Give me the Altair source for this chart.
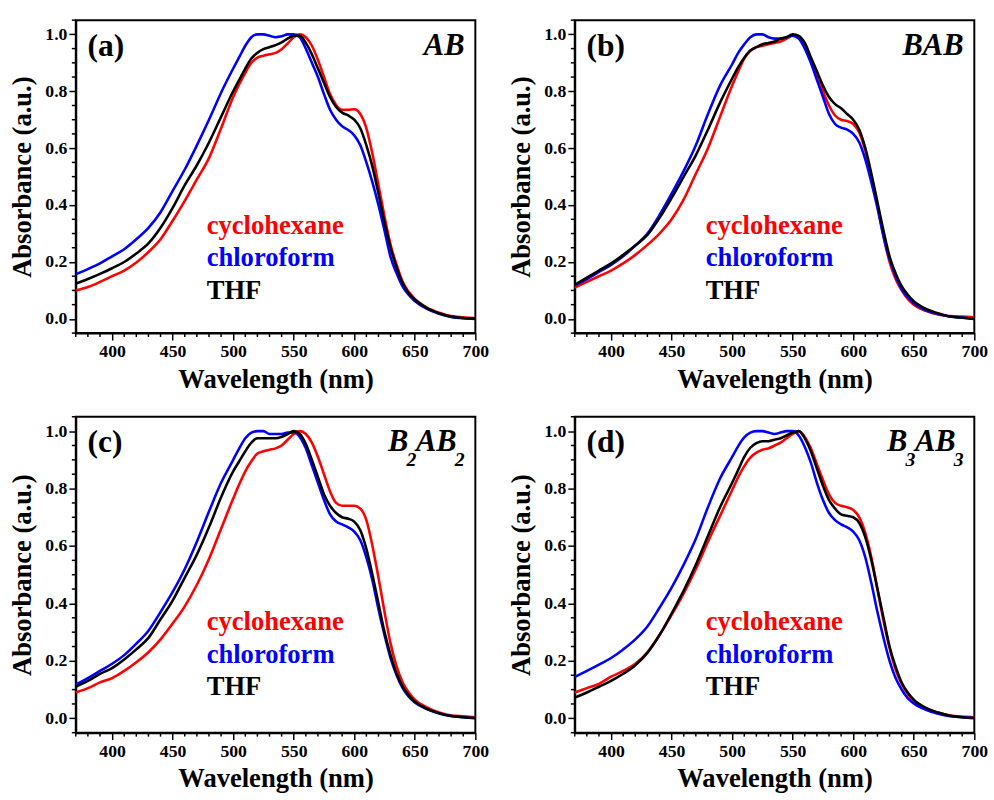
import altair as alt
import pandas as pd

# ---------------- data ----------------
WL = [370, 380, 390, 400, 410, 420, 430, 440, 450, 460, 470, 480, 490, 500,
      505, 510, 515, 520, 525, 530, 535, 540, 545, 550, 555, 560, 565, 570, 575, 580,
      585, 590, 595, 600, 605, 610, 615, 620, 625, 630, 635, 640, 645, 650,
      660, 670, 680, 690, 700]

SOLVENTS = ["cyclohexane", "chloroform", "THF"]
COLORS = ["#ff0000", "#0000ff", "#000000"]

# panel (a) AB
A_CYC = [0.100, 0.112, 0.130, 0.150, 0.170, 0.198, 0.235, 0.280, 0.345, 0.415, 0.490, 0.565, 0.670, 0.780,
         0.825, 0.865, 0.900, 0.918, 0.925, 0.930, 0.935, 0.948, 0.968, 0.990, 1.000, 0.990, 0.960, 0.910, 0.850, 0.790,
         0.752, 0.735, 0.735, 0.737, 0.720, 0.670, 0.580, 0.470, 0.360, 0.260, 0.190, 0.130, 0.095, 0.070,
         0.040, 0.022, 0.010, 0.006, 0.003]
A_CHL = [0.157, 0.175, 0.195, 0.220, 0.245, 0.280, 0.320, 0.375, 0.450, 0.525, 0.610, 0.700, 0.795, 0.880,
         0.920, 0.960, 0.990, 1.000, 1.000, 0.995, 0.990, 0.993, 1.000, 1.000, 0.990, 0.950, 0.900, 0.850, 0.790, 0.735,
         0.700, 0.677, 0.664, 0.645, 0.610, 0.550, 0.480, 0.400, 0.310, 0.217, 0.160, 0.113, 0.084, 0.063,
         0.035, 0.018, 0.007, 0.002, 0.000]
A_THF = [0.124, 0.140, 0.158, 0.178, 0.200, 0.230, 0.265, 0.320, 0.390, 0.470, 0.540, 0.620, 0.710, 0.800,
         0.840, 0.880, 0.915, 0.935, 0.948, 0.955, 0.962, 0.972, 0.985, 0.995, 0.995, 0.970, 0.930, 0.880, 0.830, 0.780,
         0.745, 0.725, 0.715, 0.700, 0.670, 0.610, 0.535, 0.440, 0.340, 0.250, 0.180, 0.125, 0.090, 0.068,
         0.038, 0.020, 0.008, 0.003, 0.001]

# panel (b) BAB
B_CYC = [0.110, 0.130, 0.150, 0.170, 0.195, 0.225, 0.260, 0.300, 0.350, 0.420, 0.510, 0.600, 0.710, 0.820,
         0.870, 0.915, 0.942, 0.955, 0.960, 0.965, 0.970, 0.975, 0.985, 0.995, 0.990, 0.960, 0.910, 0.860, 0.800, 0.750,
         0.715, 0.700, 0.695, 0.685, 0.655, 0.590, 0.500, 0.400, 0.290, 0.200, 0.140, 0.100, 0.070, 0.050,
         0.028, 0.015, 0.010, 0.008, 0.006]
B_CHL = [0.118, 0.140, 0.165, 0.190, 0.220, 0.258, 0.300, 0.365, 0.440, 0.520, 0.610, 0.720, 0.820, 0.895,
         0.935, 0.965, 0.990, 1.000, 1.000, 0.990, 0.985, 0.985, 0.990, 0.995, 0.985, 0.950, 0.900, 0.840, 0.780, 0.720,
         0.685, 0.672, 0.665, 0.650, 0.620, 0.560, 0.480, 0.390, 0.290, 0.210, 0.150, 0.105, 0.075, 0.055,
         0.030, 0.017, 0.008, 0.005, 0.000]
B_THF = [0.120, 0.145, 0.170, 0.195, 0.225, 0.258, 0.295, 0.355, 0.425, 0.500, 0.575, 0.665, 0.760, 0.845,
         0.885, 0.918, 0.943, 0.955, 0.965, 0.970, 0.975, 0.985, 0.990, 1.000, 0.995, 0.970, 0.920, 0.870, 0.820, 0.780,
         0.755, 0.740, 0.720, 0.700, 0.665, 0.600, 0.510, 0.410, 0.310, 0.220, 0.160, 0.115, 0.085, 0.062,
         0.035, 0.020, 0.008, 0.004, 0.000]

# panel (c) B2AB2
C_CYC = [0.090, 0.105, 0.125, 0.140, 0.165, 0.195, 0.230, 0.275, 0.330, 0.390, 0.465, 0.555, 0.660, 0.765,
         0.815, 0.860, 0.895, 0.922, 0.930, 0.935, 0.940, 0.950, 0.970, 0.990, 1.000, 0.990, 0.960, 0.910, 0.850, 0.790,
         0.750, 0.740, 0.740, 0.740, 0.730, 0.690, 0.600, 0.490, 0.370, 0.260, 0.180, 0.125, 0.090, 0.065,
         0.038, 0.020, 0.010, 0.007, 0.004]
C_CHL = [0.118, 0.140, 0.165, 0.190, 0.220, 0.260, 0.305, 0.370, 0.440, 0.520, 0.615, 0.720, 0.820, 0.900,
         0.940, 0.975, 0.995, 1.000, 1.000, 0.990, 0.990, 0.990, 0.995, 0.995, 0.980, 0.940, 0.880, 0.820, 0.760, 0.710,
         0.685, 0.675, 0.665, 0.650, 0.620, 0.560, 0.480, 0.380, 0.290, 0.210, 0.150, 0.105, 0.075, 0.055,
         0.032, 0.017, 0.008, 0.004, 0.000]
C_THF = [0.110, 0.130, 0.155, 0.175, 0.205, 0.240, 0.280, 0.345, 0.410, 0.490, 0.570, 0.665, 0.770, 0.860,
         0.895, 0.930, 0.960, 0.975, 0.975, 0.975, 0.975, 0.980, 0.990, 1.000, 0.990, 0.955, 0.900, 0.840, 0.780, 0.740,
         0.715, 0.700, 0.695, 0.685, 0.655, 0.590, 0.500, 0.400, 0.300, 0.220, 0.155, 0.110, 0.080, 0.058,
         0.033, 0.018, 0.008, 0.004, 0.001]

# panel (d) B3AB3
D_CYC = [0.090, 0.105, 0.120, 0.145, 0.165, 0.190, 0.230, 0.290, 0.360, 0.435, 0.520, 0.615, 0.705, 0.795,
         0.840, 0.878, 0.908, 0.925, 0.935, 0.940, 0.950, 0.960, 0.975, 0.990, 1.000, 0.980, 0.940, 0.885, 0.830, 0.780,
         0.750, 0.740, 0.735, 0.725, 0.700, 0.645, 0.560, 0.450, 0.340, 0.245, 0.170, 0.120, 0.085, 0.062,
         0.035, 0.020, 0.010, 0.006, 0.004]
D_CHL = [0.144, 0.165, 0.187, 0.210, 0.240, 0.275, 0.320, 0.385, 0.455, 0.535, 0.625, 0.735, 0.835, 0.910,
         0.948, 0.978, 0.995, 1.000, 1.000, 0.995, 0.990, 0.995, 1.000, 1.000, 0.985, 0.945, 0.890, 0.820, 0.760, 0.715,
         0.690, 0.675, 0.665, 0.650, 0.620, 0.560, 0.470, 0.370, 0.280, 0.200, 0.140, 0.100, 0.070, 0.052,
         0.030, 0.016, 0.007, 0.004, 0.001]
D_THF = [0.072, 0.090, 0.110, 0.130, 0.155, 0.185, 0.228, 0.290, 0.365, 0.445, 0.535, 0.635, 0.735, 0.820,
         0.865, 0.910, 0.942, 0.958, 0.965, 0.965, 0.970, 0.975, 0.985, 0.995, 1.000, 0.975, 0.930, 0.870, 0.810, 0.760,
         0.730, 0.710, 0.705, 0.700, 0.680, 0.630, 0.550, 0.450, 0.350, 0.250, 0.180, 0.125, 0.090, 0.065,
         0.036, 0.020, 0.009, 0.004, 0.001]

PANEL_TAGS = ["(a)", "(b)", "(c)", "(d)"]
# (text, is_subscript) pieces of the polymer labels
PANEL_NAMES = [
    [("AB", False)],
    [("BAB", False)],
    [("B", False), ("2", True), ("AB", False), ("2", True)],
    [("B", False), ("3", True), ("AB", False), ("3", True)],
]
PANEL_SERIES = [
    [A_CYC, A_CHL, A_THF],
    [B_CYC, B_CHL, B_THF],
    [C_CYC, C_CHL, C_THF],
    [D_CYC, D_CHL, D_THF],
]

X_TICKS = [400, 450, 500, 550, 600, 650, 700]
X_MINOR = [370, 380, 390, 410, 420, 430, 440, 460, 470, 480, 490, 510, 520, 530, 540,
           560, 570, 580, 590, 610, 620, 630, 640, 660, 670, 680, 690]
Y_TICKS = [0.0, 0.2, 0.4, 0.6, 0.8, 1.0]
Y_MINOR = [-0.05, 0.05, 0.1, 0.15, 0.25, 0.3, 0.35, 0.45, 0.5, 0.55, 0.65, 0.7, 0.75,
           0.85, 0.9, 0.95, 1.05]

# ---------------- layout / style ----------------
W = 406
FONT = "Liberation Serif"
xs = alt.Scale(domain=[370, 700], nice=False, zero=False)
ys = alt.Scale(domain=[-0.05, 1.05], nice=False, zero=False)
X_AXIS = alt.Axis(values=X_TICKS, format="d", title="Wavelength (nm)")
Y_AXIS = alt.Axis(values=Y_TICKS, format=".1f", title="Absorbance (a.u.)")


def panel(i, H):
    rows = []
    for s, vals in zip(SOLVENTS, PANEL_SERIES[i]):
        for w, a in zip(WL, vals):
            rows.append({"wl": w, "A": a, "solvent": s})
    df = pd.DataFrame(rows)
    base = alt.Chart(df)
    layers = []
    for s, c in zip(SOLVENTS, COLORS):
        layers.append(
            base.transform_filter(alt.datum.solvent == s)
            .mark_line(color=c, strokeWidth=2.6, strokeJoin="round", interpolate="monotone")
            .encode(x=alt.X("wl:Q", scale=xs, axis=X_AXIS),
                    y=alt.Y("A:Q", scale=ys, axis=Y_AXIS))
        )
    # minor ticks
    layers.append(
        alt.Chart(pd.DataFrame({"wl": X_MINOR})).mark_rule(color="black", strokeWidth=1.5)
        .encode(x=alt.X("wl:Q", scale=xs, axis=X_AXIS), y=alt.value(H), y2=alt.value(H + 4))
    )
    layers.append(
        alt.Chart(pd.DataFrame({"A": Y_MINOR})).mark_rule(color="black", strokeWidth=1.5)
        .encode(y=alt.Y("A:Q", scale=ys, axis=Y_AXIS), x=alt.value(0), x2=alt.value(-4))
    )
    # panel tag
    layers.append(
        alt.Chart(pd.DataFrame({"t": [PANEL_TAGS[i]]}))
        .mark_text(font=FONT, fontSize=32, fontWeight="bold", align="left", baseline="alphabetic", color="black")
        .encode(x=alt.value(12), y=alt.value(36), text="t:N")
    )
    # polymer name, placed from the right edge
    pieces = PANEL_NAMES[i]
    xr = W - 11
    for txt, sub in reversed(pieces):
        if sub:
            layers.append(
                alt.Chart(pd.DataFrame({"t": [txt]}))
                .mark_text(font=FONT, fontSize=20, fontWeight="bold", fontStyle="italic",
                           align="right", baseline="alphabetic", color="black")
                .encode(x=alt.value(xr), y=alt.value(50), text="t:N")
            )
            xr -= 8
        else:
            layers.append(
                alt.Chart(pd.DataFrame({"t": [txt]}))
                .mark_text(font=FONT, fontSize=31, fontWeight="bold", fontStyle="italic",
                           align="right", baseline="alphabetic", color="black")
                .encode(x=alt.value(xr), y=alt.value(35), text="t:N")
            )
            xr -= 20 * len(txt) + 1
    # legend text
    for k, (s, c) in enumerate(zip(SOLVENTS, COLORS)):
        layers.append(
            alt.Chart(pd.DataFrame({"t": [s]}))
            .mark_text(font=FONT, fontSize=27, fontWeight="bold", align="left", baseline="alphabetic", color=c)
            .encode(x=alt.value(133), y=alt.value(217 + 33 * k), text="t:N")
        )
    return alt.layer(*layers).properties(width=W, height=H)


top = alt.hconcat(panel(0, 318), panel(1, 318), spacing=17)
bot = alt.hconcat(panel(2, 321), panel(3, 321), spacing=17)
chart = alt.vconcat(top, bot, spacing=22).properties(
    padding={"left": 8, "top": 12, "right": 5, "bottom": 5},
    background="white",
).configure_view(stroke="black", strokeWidth=2).configure_axis(
    grid=False,
    domainColor="black",
    domainWidth=2,
    tickColor="black",
    tickWidth=1.5,
    tickSize=7,
    labelFont=FONT,
    labelFontSize=18,
    labelFontWeight="bold",
    labelColor="black",
    titleFont=FONT,
    titleFontSize=27,
    titleFontWeight="bold",
    titleColor="black",
).configure_axisX(labelPadding=3, titlePadding=6, labelFlush=False).configure_axisY(
    labelPadding=2, titlePadding=8
)

chart.save("out.html", embed_options={"renderer": "svg", "actions": False})
